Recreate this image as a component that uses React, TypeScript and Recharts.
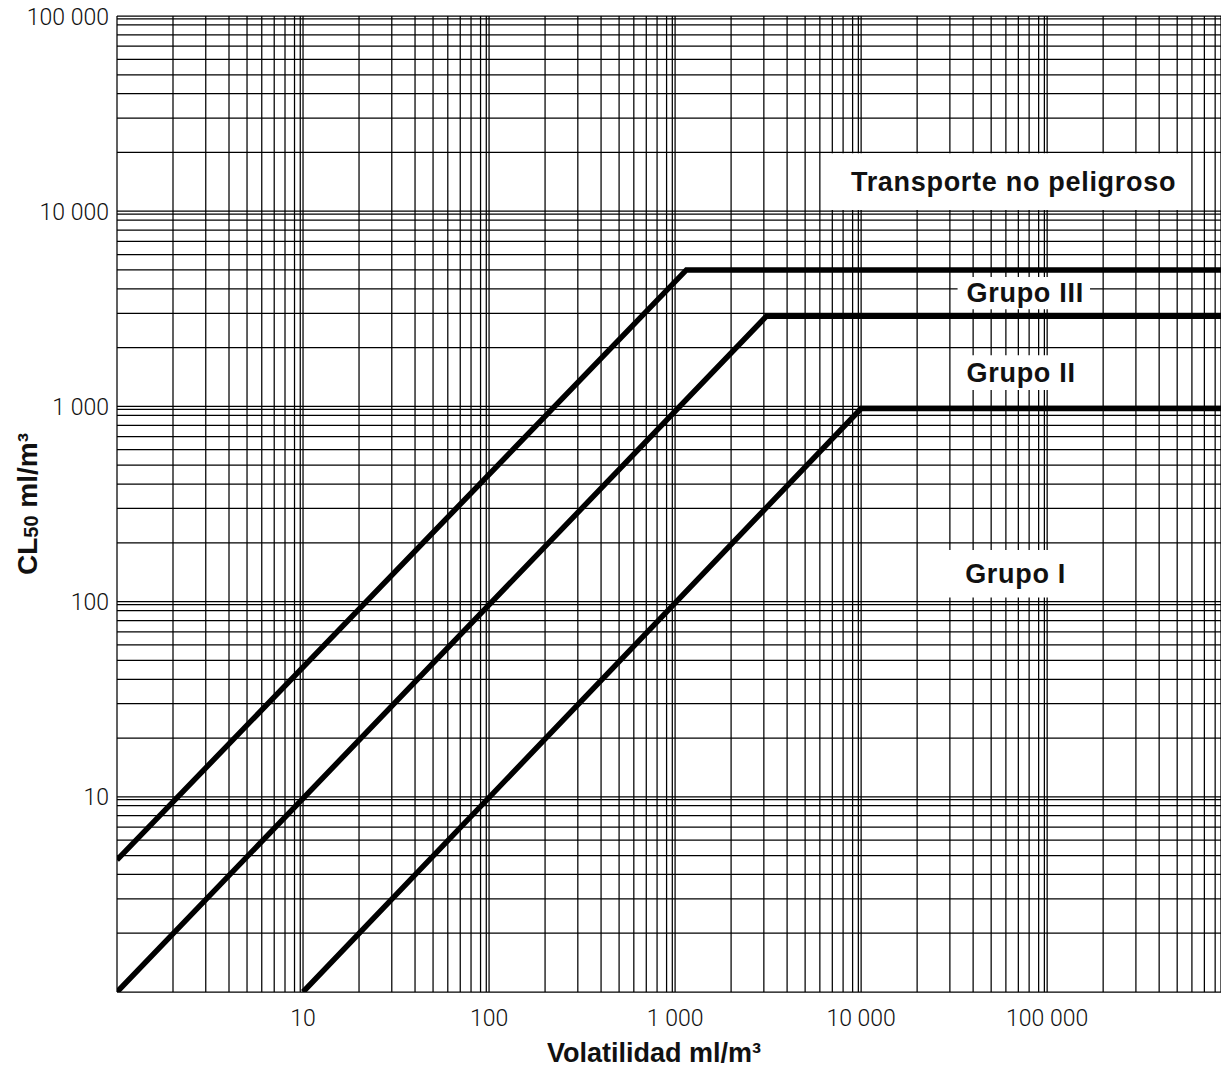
import React from 'react';
import {
  ComposedChart,
  Line,
  XAxis,
  YAxis,
  CartesianGrid,
  ReferenceArea,
  Label,
} from 'recharts';

// ---- data ----
const xMax = 860000;
const xDecades = [1, 10, 100, 1000, 10000, 100000];
const yDecades = [1, 10, 100, 1000, 10000, 100000];
const minorSteps = [2, 3, 4, 5, 6, 7, 8, 9];

const xLabelValues = [10, 100, 1000, 10000, 100000];
const xLabelTexts = ['10', '100', '1\u00A0000', '10\u00A0000', '100\u00A0000'];
const yLabelValues = [10, 100, 1000, 10000, 100000];
const yLabelTexts = ['10', '100', '1\u00A0000', '10\u00A0000', '100\u00A0000'];

const grupoIIILine = [
  { x: 1, y: 4.75 },
  { x: 1150, y: 5000 },
  { x: xMax, y: 5000 },
];
const grupoIILine = [
  { x: 1, y: 1 },
  { x: 3100, y: 2900 },
  { x: xMax, y: 2900 },
];
const grupoILine = [
  { x: 10, y: 1 },
  { x: 10000, y: 975 },
  { x: xMax, y: 975 },
];

const annotationTexts = ['Transporte no peligroso', 'Grupo III', 'Grupo II', 'Grupo I'];
const annotationX1 = [6800, 33000, 33000, 26600];
const annotationX2 = [580000, 170000, 160000, 160000];
const annotationY1 = [10150, 3150, 1213, 105];
const annotationY2 = [19800, 4600, 1830, 184];

// ---- styles ----
const DOUBLE = 1.035;
const TICK_FONT = 'Roboto, "Liberation Sans", Arial, sans-serif';
const BOLD_FONT = '"Liberation Sans", Arial, Helvetica, sans-serif';
const annotationPad = [21, 9, 9, 25];

const xGridTicks: number[] = [];
xDecades.forEach((d) => {
  xGridTicks.push(d);
  if (d > 1) xGridTicks.push(d / DOUBLE);
  minorSteps.forEach((m) => {
    if (d * m <= xMax) xGridTicks.push(d * m);
  });
});

const yGridTicks: number[] = [];
yDecades.forEach((d) => {
  yGridTicks.push(d);
  if (d > 1) yGridTicks.push(d / DOUBLE);
  if (d < 100000) minorSteps.forEach((m) => yGridTicks.push(d * m));
});

const XTick = (props: any) => {
  const { x, y, payload } = props;
  const idx = xLabelValues.indexOf(payload.value);
  if (idx < 0) return <g />;
  return (
    <text
      x={x}
      y={y + 26}
      textAnchor="middle"
      dominantBaseline="central"
      fontFamily={TICK_FONT}
      fontWeight={300}
      fontSize={23}
      fill="#111"
    >
      {xLabelTexts[idx]}
    </text>
  );
};

const YTick = (props: any) => {
  const { x, y, payload } = props;
  const idx = yLabelValues.indexOf(payload.value);
  if (idx < 0) return <g />;
  return (
    <text
      x={x - 8}
      y={y + 1}
      textAnchor="end"
      dominantBaseline="central"
      fontFamily={TICK_FONT}
      fontWeight={300}
      fontSize={23}
      fill="#111"
    >
      {yLabelTexts[idx]}
    </text>
  );
};

const XTitle = (props: any) => {
  const vb = props.viewBox || {};
  return (
    <text
      x={vb.x + 537}
      y={vb.y + 61}
      textAnchor="middle"
      dominantBaseline="central"
      fontFamily={BOLD_FONT}
      fontWeight="bold"
      fontSize={27}
      fill="#111"
    >
      Volatilidad ml/m³
    </text>
  );
};

const YTitle = (props: any) => {
  const vb = props.viewBox || {};
  const cx = 27;
  const cy = vb.y + vb.height / 2;
  return (
    <text
      x={cx}
      y={cy}
      transform={`rotate(-90, ${cx}, ${cy})`}
      textAnchor="middle"
      dominantBaseline="central"
      fontFamily={BOLD_FONT}
      fontWeight="bold"
      fontSize={28}
      fill="#111"
    >
      CL
      <tspan fontSize={20} dy={4}>
        50
      </tspan>
      <tspan dy={-4}> ml/m³</tspan>
    </text>
  );
};

const makeAnnotationLabel = (text: string, pad: number) => (props: any) => {
  const vb = props.viewBox || {};
  return (
    <text
      x={vb.x + pad}
      y={vb.y + vb.height / 2}
      dominantBaseline="central"
      fontFamily={BOLD_FONT}
      fontWeight="bold"
      fontSize={27}
      letterSpacing={0.7}
      fill="#111"
    >
      {text}
    </text>
  );
};

export default function App() {
  return (
    <div style={{ position: 'absolute', left: 0, top: 0, width: 1221, height: 1086, background: '#fff' }}>
      <ComposedChart
        width={1221}
        height={1086}
        margin={{ top: 16, right: 0, bottom: 0, left: 0 }}
      >
        <CartesianGrid stroke="#000" strokeWidth={1.25} />
        <XAxis
          type="number"
          dataKey="x"
          scale="log"
          domain={[1, xMax]}
          allowDataOverflow
          ticks={xGridTicks}
          interval={0}
          tick={(p: any) => <XTick {...p} />}
          tickLine={false}
          axisLine={false}
          tickSize={0}
          tickMargin={0}
          height={94}
        >
          <Label content={XTitle} />
        </XAxis>
        <YAxis
          type="number"
          dataKey="y"
          scale="log"
          domain={[1, 100000]}
          allowDataOverflow
          ticks={yGridTicks}
          interval={0}
          tick={(p: any) => <YTick {...p} />}
          tickLine={false}
          axisLine={false}
          tickSize={0}
          tickMargin={0}
          width={117}
        >
          <Label content={YTitle} />
        </YAxis>
        {annotationTexts.map((t, i) => (
          <ReferenceArea
            key={t}
            x1={annotationX1[i]}
            x2={annotationX2[i]}
            y1={annotationY1[i]}
            y2={annotationY2[i]}
            fill="#fff"
            fillOpacity={1}
            stroke="none"
            ifOverflow="visible"
          >
            <Label content={makeAnnotationLabel(t, annotationPad[i])} />
          </ReferenceArea>
        ))}
        <Line data={grupoIIILine} dataKey="y" type="linear" stroke="#000" strokeWidth={5.5} dot={false} activeDot={false} isAnimationActive={false} />
        <Line data={grupoIILine} dataKey="y" type="linear" stroke="#000" strokeWidth={5.5} dot={false} activeDot={false} isAnimationActive={false} />
        <Line data={grupoILine} dataKey="y" type="linear" stroke="#000" strokeWidth={5.5} dot={false} activeDot={false} isAnimationActive={false} />
      </ComposedChart>
    </div>
  );
}
